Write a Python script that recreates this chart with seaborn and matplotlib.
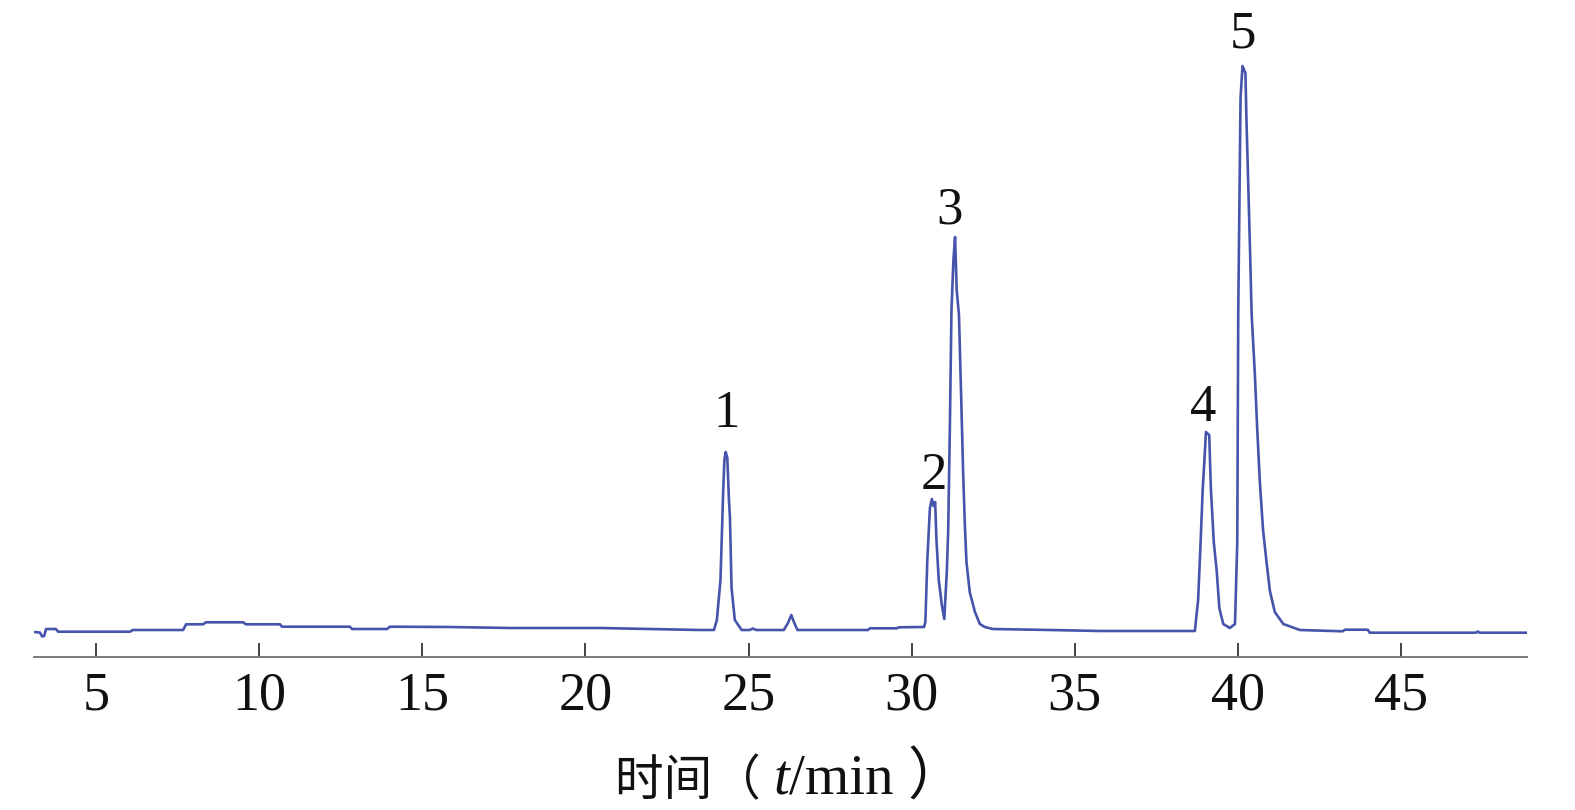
import matplotlib
matplotlib.use("Agg")
import matplotlib.pyplot as plt
import seaborn as sns
import pandas as pd

# ---- data (time in min, signal in arbitrary units) ----
time_min = [3.10, 3.28, 3.35, 3.41, 3.47, 3.77, 3.84, 6.04, 6.13, 7.67, 7.76, 8.28, 8.37,
            9.50, 9.60, 10.64, 10.70, 12.78, 12.85, 13.92, 14.01, 15.85, 17.69, 20.45,
            23.51, 23.94, 24.03, 24.14, 24.22, 24.26, 24.30, 24.35, 24.40, 24.43, 24.48, 24.58,
            24.79, 25.04, 25.13, 25.23, 26.08, 26.21, 26.31, 26.39, 26.50, 28.66, 28.72,
            29.55, 29.61, 30.38, 30.42, 30.48, 30.56, 30.62, 30.67, 30.72, 30.76, 30.83,
            30.93, 31.00, 31.08, 31.12, 31.17, 31.22, 31.28, 31.33, 31.38, 31.45, 31.51,
            31.58, 31.63, 31.68, 31.78, 31.94, 32.09, 32.24, 32.49, 34.24, 35.77, 38.62,
            38.68, 38.78, 38.85, 38.92, 38.97, 39.02, 39.12, 39.17, 39.26, 39.35, 39.43,
            39.55, 39.75, 39.91, 39.98, 40.01, 40.08, 40.14, 40.23, 40.26, 40.31, 40.37,
            40.42, 40.52, 40.59, 40.67, 40.77, 40.88, 40.98, 41.13, 41.39, 41.90, 43.21,
            43.28, 43.98, 44.04, 47.29, 47.35, 47.41, 48.86]
signal = [-2, -2.5, -6.5, -6, 1, 1, -1.7, -1.7, 0, 0, 5.7, 5.7, 7.7,
          7.7, 5.7, 5.7, 3.3, 3.3, 1, 1, 3.3, 3, 2, 2,
          0, 0, 10, 50, 135, 170, 178, 172, 130, 113, 42, 10,
          0, 0, 1.5, 0, 0, 7, 15, 8, 0, 0, 1.7,
          1.7, 2.7, 3, 8, 70, 122, 131, 124, 128, 90, 50,
          24, 11, 60, 100, 200, 320, 370, 393, 340, 315, 242,
          155, 105, 68, 38, 18, 6, 3, 1, 0, -1, -1,
          -1, 30, 83, 140, 168, 198, 195, 142, 88, 59, 22,
          6, 2, 6, 88, 318, 532, 564, 557, 512, 453, 381,
          316, 255, 202, 149, 100, 67, 39, 18, 6, 0, -1.3,
          0.3, 0.3, -2.7, -2.7, -1.5, -2.7, -2.7]

peak_labels = ["1", "2", "3", "4", "5"]
peak_label_t = [24.34, 30.68, 31.17, 38.92, 40.14]
peak_label_y = [203, 141, 407, 209, 583]

x_ticks = [5, 10, 15, 20, 25, 30, 35, 40, 45]

df = pd.DataFrame({"t": time_min, "s": signal})

sns.set_theme(style="white")
fam = ["Liberation Serif", "Noto Sans CJK SC", "DejaVu Sans"]
plt.rcParams["font.family"] = fam

W, H = 1575, 810
fig = plt.figure(figsize=(W / 100, H / 100), dpi=100)
ax_left, ax_right = 34 / W, 1527 / W
ax_bottom = (H - 656.7) / H
ax_top = (H - 30) / H
ax = fig.add_axes([ax_left, ax_bottom, ax_right - ax_left, ax_top - ax_bottom])

sns.lineplot(data=df, x="t", y="s", ax=ax, color="#4654ab", linewidth=1.9,
             estimator=None, sort=False)

ax.set_xlim(3.1, 48.86)
ax.set_ylim(-26.7, 600)
ax.set_xticks(x_ticks)
ax.set_xticklabels([str(v) for v in x_ticks])
ax.set_yticks([])
ax.set_xlabel("")
ax.set_ylabel("")

for side in ["top", "right", "left"]:
    ax.spines[side].set_visible(False)
ax.spines["bottom"].set_color("#707070")
ax.spines["bottom"].set_linewidth(1.3)
ax.tick_params(axis="x", direction="in", length=10, width=1.1, color="#111111",
               labelsize=39, pad=10, labelcolor="#111111", bottom=True)
for lab in ax.get_xticklabels():
    lab.set_family(fam)

for txt, tx, ty in zip(peak_labels, peak_label_t, peak_label_y):
    ax.text(tx, ty, txt, ha="center", va="baseline", fontsize=38, color="#111111",
            family=fam)

# x-axis label: 时间（ t/min ）with italic t
p1 = ax.annotate("时间（ ", xy=(615 / W, 0.006), xycoords="figure fraction",
                 ha="left", va="bottom", fontsize=35, color="#111111", family=fam)
p2 = ax.annotate("t", xy=(1, 0), xycoords=p1, xytext=(0, -1.2), textcoords="offset points",
                 ha="left", va="bottom", fontsize=41, color="#111111", family=fam,
                 style="italic")
p3 = ax.annotate("/min ）", xy=(1, 0), xycoords=p2, ha="left", va="bottom",
                 fontsize=41, color="#111111", family=fam)

fig.savefig("out.png", dpi=100)
